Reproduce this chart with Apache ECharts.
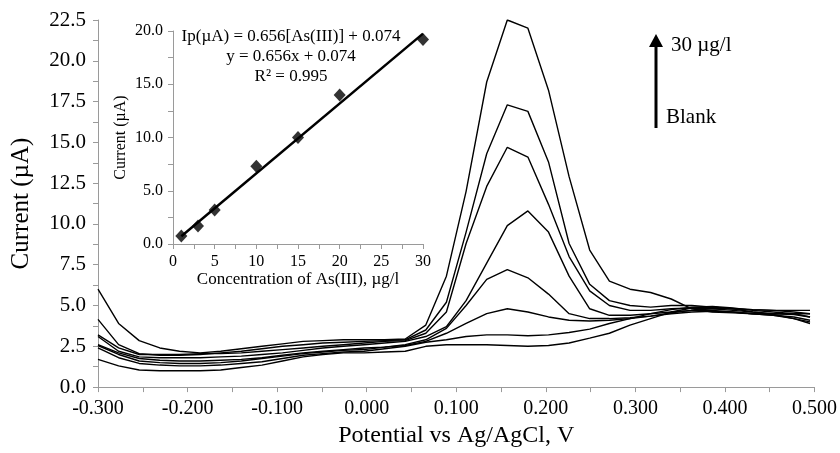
<!DOCTYPE html>
<html>
<head>
<meta charset="utf-8">
<script src="https://cdn.jsdelivr.net/npm/echarts@6/dist/echarts.min.js"></script>
<style>
  html, body { margin: 0; padding: 0; background: #fff; }
  #chart { width: 840px; height: 453px; }
</style>
</head>
<body>
<div id="chart"></div>
<script>
// potential (V) sampled along the sweep
const potential = [-0.300, -0.277, -0.254, -0.231, -0.209, -0.186, -0.163, -0.140, -0.117, -0.094,
  -0.071, -0.049, -0.026, -0.003, 0.020, 0.043, 0.066, 0.089, 0.111, 0.134,
  0.157, 0.180, 0.203, 0.226, 0.249, 0.271, 0.294, 0.317, 0.340, 0.363,
  0.386, 0.409, 0.431, 0.454, 0.477, 0.495];

// current (uA) for each concentration
const blank = [1.7, 1.3, 1.05, 1.0, 1.0, 1.0, 1.05, 1.2, 1.35, 1.6, 1.85, 2.0, 2.1, 2.1, 2.15, 2.2, 2.5, 2.6, 2.6, 2.6, 2.55, 2.5, 2.55, 2.7, 3.0, 3.3, 3.8, 4.2, 4.6, 4.85, 4.9, 4.8, 4.6, 4.45, 4.2, 3.9];
const c1 = [2.4, 1.8, 1.45, 1.35, 1.3, 1.3, 1.35, 1.45, 1.55, 1.75, 1.95, 2.05, 2.15, 2.2, 2.35, 2.5, 2.75, 2.9, 3.1, 3.2, 3.2, 3.15, 3.2, 3.35, 3.55, 3.9, 4.2, 4.5, 4.75, 4.9, 4.95, 4.85, 4.7, 4.6, 4.5, 4.3];
const c3 = [2.6, 2.1, 1.75, 1.65, 1.6, 1.6, 1.65, 1.7, 1.8, 1.95, 2.1, 2.2, 2.3, 2.4, 2.45, 2.55, 2.8, 3.3, 3.9, 4.5, 4.8, 4.6, 4.3, 4.1, 4.05, 4.1, 4.2, 4.35, 4.55, 4.7, 4.8, 4.8, 4.75, 4.7, 4.6, 4.5];
const c5 = [2.55, 2.0, 1.6, 1.5, 1.45, 1.45, 1.5, 1.6, 1.75, 1.9, 2.05, 2.15, 2.25, 2.3, 2.45, 2.6, 2.9, 3.6, 5.0, 6.6, 7.2, 6.7, 5.7, 4.5, 4.2, 4.2, 4.25, 4.35, 4.5, 4.6, 4.65, 4.6, 4.5, 4.4, 4.2, 4.0];
const c10 = [3.1, 2.2, 1.85, 1.8, 1.8, 1.8, 1.85, 1.9, 2.0, 2.1, 2.25, 2.4, 2.5, 2.6, 2.7, 2.8, 3.1, 3.7, 5.3, 7.6, 9.9, 10.8, 9.5, 6.8, 4.8, 4.4, 4.4, 4.5, 4.6, 4.7, 4.7, 4.6, 4.5, 4.4, 4.3, 4.1];
const c15 = [3.2, 2.4, 2.0, 2.0, 2.0, 2.05, 2.05, 2.1, 2.2, 2.3, 2.4, 2.5, 2.6, 2.7, 2.8, 2.85, 3.3, 4.6, 8.8, 12.3, 14.7, 14.1, 11.2, 8.0, 5.9, 5.0, 4.7, 4.7, 4.8, 4.85, 4.8, 4.7, 4.6, 4.5, 4.45, 4.3];
const c20 = [4.15, 2.6, 2.05, 1.95, 1.95, 2.0, 2.1, 2.2, 2.35, 2.5, 2.6, 2.7, 2.75, 2.8, 2.85, 2.9, 3.5, 5.2, 9.5, 14.3, 17.3, 16.9, 13.8, 8.8, 6.3, 5.3, 5.0, 4.9, 5.0, 5.0, 4.9, 4.8, 4.75, 4.7, 4.7, 4.7];
const c30 = [6.0, 3.9, 2.85, 2.4, 2.2, 2.1, 2.2, 2.35, 2.5, 2.65, 2.8, 2.85, 2.9, 2.9, 2.9, 2.95, 3.8, 6.8, 12.0, 18.7, 22.5, 22.0, 18.2, 12.9, 8.4, 6.5, 6.0, 5.8, 5.4, 4.8, 4.6, 4.55, 4.5, 4.5, 4.5, 4.5];

const curveNames = ["Blank", "1 µg/l", "3 µg/l", "5 µg/l", "10 µg/l", "15 µg/l", "20 µg/l", "30 µg/l"];
const curves = [blank, c1, c3, c5, c10, c15, c20, c30];

// calibration inset
const conc = [1, 3, 5, 10, 15, 20, 30];
const peakCurrent = [0.75, 1.7, 3.2, 7.3, 10.0, 14.0, 19.2];
const fitX = [1, 30];
const fitY = [0.73, 19.75];

const FONT = '"Liberation Serif", "Times New Roman", serif';
const AXIS_GRAY = "#9a9a9a";

function zip(xs, ys) {
  return xs.map((x, i) => [x, ys[i]]);
}

const chart = echarts.init(document.getElementById("chart"), null, { renderer: "canvas" });

const axisCommon = {
  axisLine: { show: true, onZero: false, lineStyle: { color: AXIS_GRAY, width: 1 } },
  axisTick: { show: true, length: 5, lineStyle: { color: AXIS_GRAY } },
  minorTick: { show: true, splitNumber: 2, length: 5, lineStyle: { color: AXIS_GRAY } },
  splitLine: { show: false },
};

const series = curves.map((vals, i) => ({
  name: curveNames[i],
  type: "line",
  xAxisIndex: 0,
  yAxisIndex: 0,
  data: zip(potential, vals),
  symbol: "none",
  lineStyle: { color: "#000", width: 1.4 },
  silent: true,
  z: 2,
}));

series.push({
  name: "fit",
  type: "line",
  xAxisIndex: 1,
  yAxisIndex: 1,
  data: zip(fitX, fitY),
  symbol: "none",
  lineStyle: { color: "#000", width: 2.5 },
  z: 3,
});

series.push({
  name: "Ip",
  type: "scatter",
  xAxisIndex: 1,
  yAxisIndex: 1,
  data: zip(conc, peakCurrent),
  symbol: "diamond",
  symbolSize: [12, 13],
  itemStyle: { color: "#000" },
  z: 4,
});

chart.setOption({
  animation: false,
  backgroundColor: "#fff",
  textStyle: { fontFamily: FONT, color: "#000" },
  grid: [
    { left: 98, top: 20, width: 718, height: 371 },
    { left: 173, top: 31, width: 250, height: 213 },
  ],
  xAxis: [
    {
      ...axisCommon,
      gridIndex: 0,
      type: "value",
      min: -0.3,
      max: 0.5,
      interval: 0.1,
      name: "Potential vs Ag/AgCl, V",
      nameLocation: "middle",
      nameGap: 33,
      nameTextStyle: { fontFamily: FONT, fontSize: 24, color: "#000" },
      axisLabel: {
        fontFamily: FONT, fontSize: 20, color: "#000", margin: 12,
        formatter: (v) => v.toFixed(3),
      },
    },
    {
      ...axisCommon,
      gridIndex: 1,
      type: "value",
      min: 0,
      max: 30,
      interval: 5,
      name: "Concentration of As(III), µg/l",
      nameLocation: "middle",
      nameGap: 26,
      nameTextStyle: { fontFamily: FONT, fontSize: 17, color: "#000" },
      axisLabel: { fontFamily: FONT, fontSize: 16, color: "#000", margin: 10 },
    },
  ],
  yAxis: [
    {
      ...axisCommon,
      gridIndex: 0,
      type: "value",
      min: 0,
      max: 22.5,
      interval: 2.5,
      name: "Current (µA)",
      nameLocation: "middle",
      nameGap: 64,
      nameTextStyle: { fontFamily: FONT, fontSize: 25, color: "#000" },
      axisLabel: {
        fontFamily: FONT, fontSize: 21, color: "#000", margin: 12,
        formatter: (v) => v.toFixed(1),
      },
    },
    {
      ...axisCommon,
      gridIndex: 1,
      type: "value",
      min: 0,
      max: 20,
      interval: 5,
      name: "Current (µA)",
      nameLocation: "middle",
      nameGap: 44,
      nameTextStyle: { fontFamily: FONT, fontSize: 16, color: "#000" },
      axisLabel: {
        fontFamily: FONT, fontSize: 16, color: "#000", margin: 10,
        formatter: (v) => v.toFixed(1),
      },
    },
  ],
  graphic: [
    // regression equation
    {
      type: "text", x: 291, y: 27, z: 10,
      style: {
        text: "Ip(µA) = 0.656[As(III)] + 0.074\ny = 0.656x + 0.074\nR² = 0.995",
        font: "17px " + FONT, fill: "#000", align: "center", verticalAlign: "top", lineHeight: 20,
      },
    },
    // concentration arrow
    {
      type: "line", z: 10,
      shape: { x1: 656, y1: 128, x2: 656, y2: 42 },
      style: { stroke: "#000", lineWidth: 3 },
    },
    {
      type: "polygon", z: 10,
      shape: { points: [[649, 47], [656, 34], [663, 47]] },
      style: { fill: "#000" },
    },
    {
      type: "text", x: 671, y: 35, z: 10,
      style: { text: "30 µg/l", font: "21px " + FONT, fill: "#000" },
    },
    {
      type: "text", x: 666, y: 107, z: 10,
      style: { text: "Blank", font: "21px " + FONT, fill: "#000" },
    },
  ],
  series,
});
</script>
</body>
</html>
